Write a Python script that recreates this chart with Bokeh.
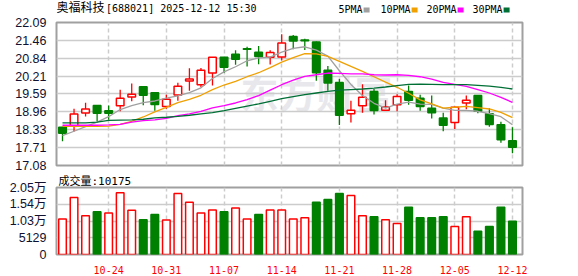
from bokeh.plotting import figure
from bokeh.models import ColumnDataSource, Range1d, FixedTicker, Label
from bokeh.layouts import column
from bokeh.embed import file_html
from bokeh.resources import INLINE
from bokeh.core.properties import value

# ---------------- data ----------------
dates = ["10-20", "10-21", "10-22", "10-23", "10-24",
         "10-27", "10-28", "10-29", "10-30", "10-31",
         "11-03", "11-04", "11-05", "11-06", "11-07",
         "11-10", "11-11", "11-12", "11-13", "11-14",
         "11-17", "11-18", "11-19", "11-20", "11-21",
         "11-24", "11-25", "11-26", "11-27", "11-28",
         "12-01", "12-02", "12-03", "12-04", "12-05",
         "12-08", "12-09", "12-10", "12-11", "12-12"]

opens = [18.42, 18.47, 18.92, 19.18, 19.00, 19.17, 19.48, 19.84, 19.63, 19.15,
         19.55, 20.04, 19.91, 20.32, 20.87, 20.98, 21.17, 21.05, 20.87, 20.88,
         21.60, 21.48, 21.41, 20.42, 19.99, 18.89, 19.17, 19.67, 19.02, 19.21,
         19.67, 19.44, 19.09, 18.74, 18.59, 19.27, 19.53, 18.89, 18.51, 17.95]
highs = [18.44, 19.07, 19.28, 19.19, 19.18, 19.73, 19.95, 19.85, 19.64, 19.56,
         19.98, 20.49, 20.50, 20.88, 20.88, 21.12, 21.24, 21.27, 21.12, 21.68,
         21.65, 21.52, 21.42, 20.57, 20.11, 19.35, 19.93, 19.76, 19.37, 19.58,
         19.88, 19.56, 19.53, 18.93, 19.15, 19.53, 19.54, 19.09, 18.61, 18.42]
lows = [17.93, 18.27, 18.80, 18.62, 18.68, 18.98, 19.33, 19.19, 19.00, 19.07,
        19.35, 19.70, 19.82, 19.88, 20.32, 20.61, 20.55, 20.63, 20.62, 20.76,
        21.15, 21.13, 20.05, 19.70, 18.50, 18.59, 18.93, 18.87, 19.01, 18.98,
        19.21, 19.00, 18.73, 18.28, 18.36, 19.05, 18.91, 18.44, 17.88, 17.51]
closes = [18.21, 18.88, 19.06, 18.91, 18.91, 19.44, 19.58, 19.54, 19.22, 19.40,
          19.86, 20.11, 20.42, 20.87, 20.52, 20.80, 21.15, 20.90, 21.04, 21.37,
          21.44, 21.45, 20.33, 19.97, 18.84, 19.02, 19.47, 19.01, 19.13, 19.50,
          19.37, 19.15, 18.93, 18.49, 19.12, 19.37, 18.98, 18.52, 17.98, 17.72]

ma5 = [18.13, 18.28, 18.44, 18.60, 18.79, 19.04, 19.18, 19.28, 19.34, 19.44,
       19.52, 19.63, 19.80, 20.13, 20.36, 20.54, 20.75, 20.85, 20.88, 21.05,
       21.18, 21.24, 21.12, 20.91, 20.40, 19.92, 19.53, 19.26, 19.09, 19.23,
       19.30, 19.23, 19.22, 19.09, 19.01, 19.01, 18.98, 18.90, 18.79, 18.51]
ma10 = [18.45, 18.45, 18.45, 18.45, 18.46, 18.52, 18.63, 18.78, 18.96, 19.12,
        19.28, 19.40, 19.54, 19.74, 19.90, 20.03, 20.19, 20.33, 20.51, 20.70,
        20.86, 21.00, 20.99, 20.90, 20.73, 20.55, 20.38, 20.19, 20.00, 19.82,
        19.61, 19.38, 19.24, 19.09, 19.12, 19.15, 19.11, 19.06, 18.94, 18.76]
ma20 = [18.49, 18.49, 18.49, 18.49, 18.50, 18.52, 18.60, 18.65, 18.68, 18.73,
        18.83, 18.89, 18.98, 19.10, 19.18, 19.27, 19.39, 19.53, 19.72, 19.91,
        20.07, 20.20, 20.26, 20.32, 20.31, 20.29, 20.29, 20.26, 20.25, 20.26,
        20.24, 20.19, 20.11, 19.99, 19.92, 19.85, 19.74, 19.62, 19.47, 19.29]
ma30 = [18.57, 18.57, 18.57, 18.60, 18.66, 18.67, 18.68, 18.70, 18.75, 18.77,
        18.80, 18.84, 18.89, 18.93, 19.00, 19.08, 19.16, 19.24, 19.33, 19.42,
        19.49, 19.56, 19.62, 19.68, 19.72, 19.74, 19.76, 19.79, 19.83, 19.88,
        19.92, 19.93, 19.92, 19.91, 19.91, 19.91, 19.89, 19.86, 19.82, 19.76]

volumes = [10850, 17460, 11836, 13118, 12724, 18938, 13513, 10653, 12231, 10554,
           18642, 15979, 12724, 13612, 13118, 14203, 10850, 12231, 13612, 13612,
           10850, 11244, 15979, 16867, 18642, 18050, 11836, 11540, 10653, 9469,
           14499, 11244, 11244, 11540, 8581, 11540, 7102, 8581, 14499, 10175]
vol_dir = ["up", "up", "up", "down", "up", "up", "up", "down", "down", "up",
           "up", "up", "up", "up", "down", "up", "up", "down", "up", "up",
           "up", "up", "down", "down", "down", "up", "up", "down", "up", "up",
           "down", "down", "down", "down", "up", "up", "down", "down", "down", "down"]

price_ticks = [17.08, 17.71, 18.33, 18.96, 19.59, 20.21, 20.84, 21.46, 22.09]
vol_ticks = [0, 5129, 10258, 15387, 20516]
vol_tick_labels = ["0", "5129", "1.03万", "1.54万", "2.05万"]
date_ticks = ["10-24", "10-31", "11-07", "11-14", "11-21", "11-28", "12-05", "12-12"]

stock_name = "奥福科技"
stock_info = "[688021] 2025-12-12 15:30"
ma_names = ["5PMA", "10PMA", "20PMA", "30PMA"]
vol_title = "成交量"

# ---------------- styling ----------------
W = 578
LEFT, RIGHT = 56, 56
RED = "#ff0000"
GREEN = "#008000"
MA_COLORS = ["#a0a0a0", "#f0a000", "#ff00ff", "#006f36"]
GRID = "#cccccc"
FRAME = "#a0a0a0"
LABEL_COLOR = "#101030"
MONO = "DejaVu Sans Mono, Noto Sans CJK SC"
CJK = "DejaVu Sans, Noto Sans CJK SC"
AXIS_FONT = "Liberation Sans, Noto Sans CJK SC"

idx = list(range(len(dates)))
tick_idx = [dates.index(d) for d in date_ticks]

up = [c >= o for o, c in zip(opens, closes)]
src = ColumnDataSource(dict(
    x=idx, high=highs, low=lows,
    top=[max(o, c) for o, c in zip(opens, closes)],
    bottom=[min(o, c) for o, c in zip(opens, closes)],
    line=[RED if u else GREEN for u in up],
    fill=["#ffffff" if u else GREEN for u in up],
))
vsrc = ColumnDataSource(dict(
    x=idx, vol=volumes,
    line=[RED if d == "up" else GREEN for d in vol_dir],
    fill=["#ffffff" if d == "up" else GREEN for d in vol_dir],
))

x_range = Range1d(-0.52, 39.87)

# ---------------- header strip (data units = page pixels, y downward) ----------------
HH = 15
h = figure(width=W, height=HH, x_range=Range1d(LEFT, W - RIGHT), y_range=Range1d(HH, 0),
           output_backend="svg", toolbar_location=None,
           x_axis_location=None, y_axis_location=None,
           min_border_left=LEFT, min_border_right=RIGHT,
           min_border_top=0, min_border_bottom=0)
h.grid.visible = False
h.outline_line_color = None
h.text(x=[56], y=[7.5], text=[stock_name], text_font=value(CJK), text_font_size="12px",
       text_color="#000000", text_baseline="middle", text_align="left")
h.text(x=[105.5], y=[7.5], text=[stock_info], text_font=value(MONO), text_font_size="10px",
       text_color="#000000", text_baseline="middle", text_align="left")
leg_x = [338, 380, 426, 472]
h.text(x=leg_x, y=[8.5] * 4, text=ma_names, text_font=value(MONO), text_font_size="10px",
       text_color="#000000", text_baseline="middle", text_align="left")
h.rect(x=[lx + 6.02 * len(n) + 4 for lx, n in zip(leg_x, ma_names)], y=[9.5] * 4,
       width=6, height=5, fill_color=MA_COLORS, line_color=None)

# ---------------- price panel ----------------
p = figure(width=W, height=157, x_range=x_range, y_range=Range1d(17.08, 22.09),
           output_backend="svg", toolbar_location=None,
           min_border_left=LEFT, min_border_right=RIGHT, min_border_top=7, min_border_bottom=7)
p.outline_line_color = FRAME
p.outline_line_width = 2
p.xaxis.visible = False
p.yaxis.ticker = FixedTicker(ticks=price_ticks)
p.yaxis.major_label_overrides = {t: f"{t:.2f}" for t in price_ticks}
p.yaxis.axis_line_color = None
p.yaxis.major_tick_line_color = None
p.yaxis.minor_tick_line_color = None
p.yaxis.major_label_standoff = 4
p.yaxis.major_label_text_font = AXIS_FONT
p.yaxis.major_label_text_font_size = "12.5px"
p.yaxis.major_label_text_color = LABEL_COLOR
p.ygrid.grid_line_color = GRID
p.ygrid.grid_line_width = 1.5
p.xgrid.ticker = FixedTicker(ticks=tick_idx)
p.xgrid.grid_line_color = GRID
p.xgrid.grid_line_dash = "4 3"
p.xgrid.grid_line_width = 1.5

# data-provider watermark
p.add_layout(Label(x=184, y=74, x_units="screen", y_units="screen", text="东方财富",
                   text_font="Noto Sans CJK SC", text_font_size="38px", text_font_style="bold",
                   text_color="#e8e8ec", text_baseline="middle", level="image"))

p.segment(x0="x", y0="high", x1="x", y1="low", source=src, line_color="line", line_width=1.3)
p.vbar(x="x", top="top", bottom="bottom", width=0.66, source=src,
       fill_color="fill", line_color="line", line_width=1.5)

for vals, col in zip([ma5, ma10, ma20, ma30], MA_COLORS):
    p.line(idx, vals, line_color=col, line_width=1.3)

# ---------------- volume panel ----------------
v = figure(width=W, height=104, x_range=x_range, y_range=Range1d(0, 20516),
           output_backend="svg", toolbar_location=None,
           min_border_left=LEFT, min_border_right=RIGHT, min_border_top=14, min_border_bottom=21)
v.title.text = f"{vol_title}:{volumes[-1]}"
v.title.align = "left"
v.title.offset = 2
v.title.standoff = 0
v.title.text_font = MONO
v.title.text_font_size = "11px"
v.title.text_font_style = "normal"
v.title.text_color = "#000000"
v.outline_line_color = FRAME
v.outline_line_width = 2
v.yaxis.ticker = FixedTicker(ticks=vol_ticks)
v.yaxis.major_label_overrides = dict(zip(vol_ticks, vol_tick_labels))
v.yaxis.axis_line_color = None
v.yaxis.major_tick_line_color = None
v.yaxis.minor_tick_line_color = None
v.yaxis.major_label_standoff = 4
v.yaxis.major_label_text_font = AXIS_FONT
v.yaxis.major_label_text_font_size = "12.5px"
v.yaxis.major_label_text_color = LABEL_COLOR
v.xaxis.ticker = FixedTicker(ticks=tick_idx)
v.xaxis.major_label_overrides = dict(zip(tick_idx, date_ticks))
v.xaxis.axis_line_color = None
v.xaxis.major_tick_line_color = None
v.xaxis.minor_tick_line_color = None
v.xaxis.major_label_standoff = 5
v.xaxis.major_label_text_font = MONO
v.xaxis.major_label_text_font_size = "10px"
v.xaxis.major_label_text_color = RED
v.ygrid.grid_line_color = GRID
v.ygrid.grid_line_width = 1.5
v.xgrid.grid_line_color = GRID
v.xgrid.grid_line_dash = "4 3"
v.xgrid.grid_line_width = 1.5

v.vbar(x="x", top="vol", bottom=0, width=0.66, source=vsrc,
       fill_color="fill", line_color="line", line_width=1.5)

layout = column(h, p, v, spacing=0)
open("out.html", "w").write(file_html(layout, INLINE))
